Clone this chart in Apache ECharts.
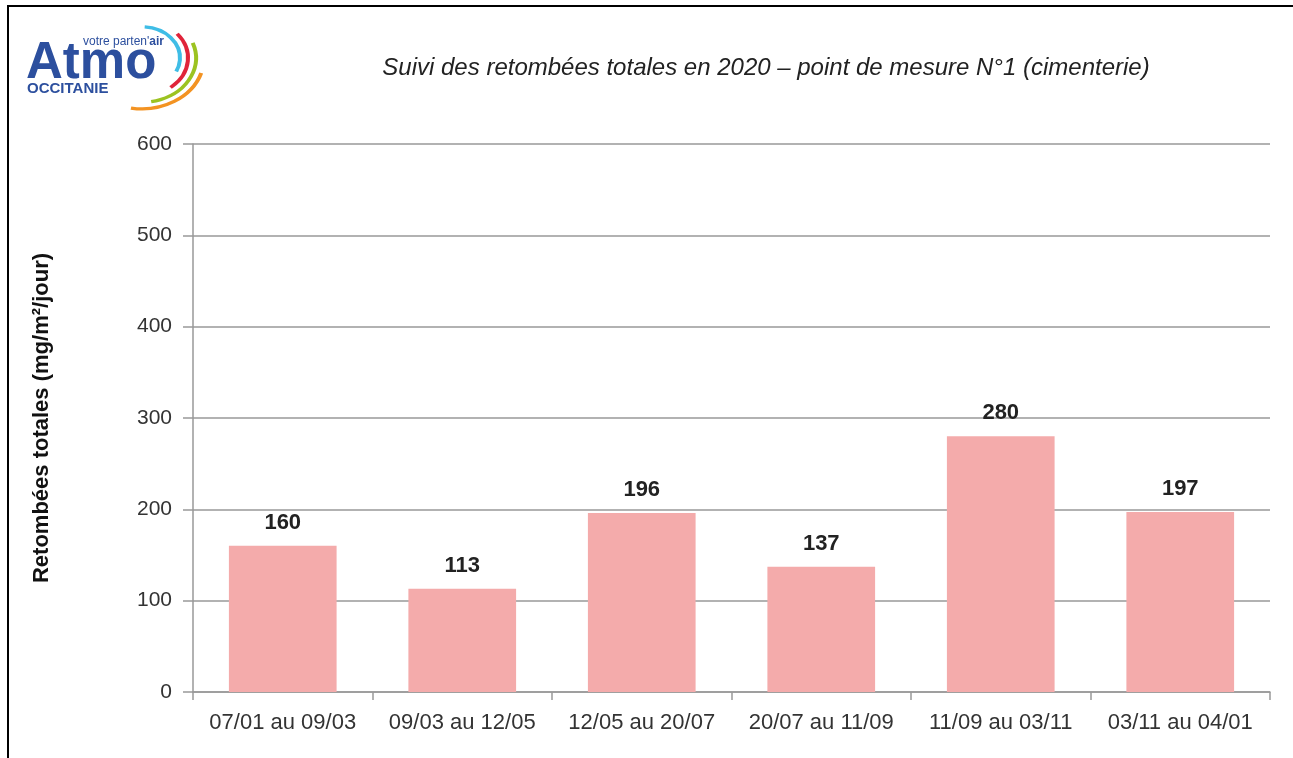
<!DOCTYPE html>
<html>
<head>
<meta charset="UTF-8">
<script type="text/javascript" src="https://cdn.jsdelivr.net/npm/echarts@6/dist/echarts.min.js"></script>
<style>
  html, body { margin: 0; padding: 0; background: #fff; }
  #frame { position: absolute; left: 7px; top: 5px; width: 1300px; height: 760px;
           border-top: 2px solid #000; border-left: 2px solid #000; }
  #chartmain { position: absolute; left: 0; top: 0; width: 1293px; height: 758px; }
</style>
</head>
<body>
<div id="frame"></div>
<div id="chartmain"></div>
<script type="text/javascript">
// periodes de mesure
var periodes = ['07/01 au 09/03', '09/03 au 12/05', '12/05 au 20/07', '20/07 au 11/09', '11/09 au 03/11', '03/11 au 04/01'];
// retombees totales (mg/m2/jour)
var retombees = [160, 113, 196, 137, 280, 197];
var yTicks = [0, 100, 200, 300, 400, 500, 600];

var font = '"Liberation Sans", Arial, sans-serif';
var bleu = '#2c4f9e';

// logo Atmo (dessin approximatif)
function anneau(r, a0, a1, col) {
  return { type: 'arc', shape: { cx: 142, cy: 58, r: r, startAngle: a0, endAngle: a1 },
           style: { stroke: col, lineWidth: 4, fill: null } };
}
var logo = [
  { type: 'group', originX: 142, originY: 58, scaleY: 0.82,
    children: [
      anneau(38, -1.5, 0.45, '#3fbde6'),
      anneau(46, -0.7, 0.9, '#e0243a'),
      anneau(54, -0.35, 1.4, '#9cc321'),
      anneau(62, 0.3, 1.75, '#f39322')
    ] },
  { type: 'text', left: 26, top: 38,
    style: { text: 'Atmo', font: 'bold 51px ' + font, fill: bleu } },
  { type: 'text', left: 83, top: 36,
    style: {
      text: "{a|votre parten'}{b|air}",
      rich: {
        a: { fontFamily: font, fontSize: 12, fill: bleu, color: bleu },
        b: { fontFamily: font, fontSize: 12, fontWeight: 'bold', fill: bleu, color: bleu }
      }
    } },
  { type: 'text', left: 27, top: 81,
    style: { text: 'OCCITANIE', font: 'bold 15px ' + font, fill: bleu } }
];

var option = {
  animation: false,
  backgroundColor: 'transparent',
  title: {
    text: 'Suivi des retombées totales en 2020 – point de mesure N°1 (cimenterie)',
    left: 761, top: 51, textAlign: 'center',
    textStyle: { fontFamily: font, fontSize: 24, fontStyle: 'italic', fontWeight: 'normal', color: '#222' }
  },
  graphic: logo,
  grid: { left: 193, right: 23, top: 144, bottom: 66 },
  xAxis: {
    type: 'category',
    data: periodes,
    axisLine: { lineStyle: { color: '#999', width: 1.5 } },
    axisTick: { show: true, length: 8, lineStyle: { color: '#999', width: 1.5 } },
    axisLabel: { fontFamily: font, fontSize: 22, color: '#333', margin: 20, interval: 0 }
  },
  yAxis: {
    type: 'value',
    min: 0, max: 600, interval: 100,
    name: 'Retombées totales (mg/m²/jour)',
    nameLocation: 'middle',
    nameGap: 140,
    nameTextStyle: { fontFamily: font, fontSize: 22, fontWeight: 'bold', color: '#111' },
    axisLine: { show: true, lineStyle: { color: '#999', width: 1.5 } },
    axisTick: { show: true, length: 10, lineStyle: { color: '#999', width: 1.5 } },
    axisLabel: {
      fontFamily: font, fontSize: 21, color: '#333', margin: 21,
      formatter: function (v) { return yTicks.indexOf(v) >= 0 ? String(v) : ''; }
    },
    splitLine: { lineStyle: { color: '#999', width: 1.5 } }
  },
  series: [{
    type: 'bar',
    data: retombees,
    barWidth: '60%',
    itemStyle: { color: '#f4abab' },
    label: {
      show: true, position: 'top', distance: 12,
      fontFamily: font, fontSize: 22, fontWeight: 'bold', color: '#222'
    }
  }]
};

var myChart = echarts.init(document.getElementById('chartmain'));
myChart.setOption(option);
</script>
</body>
</html>
